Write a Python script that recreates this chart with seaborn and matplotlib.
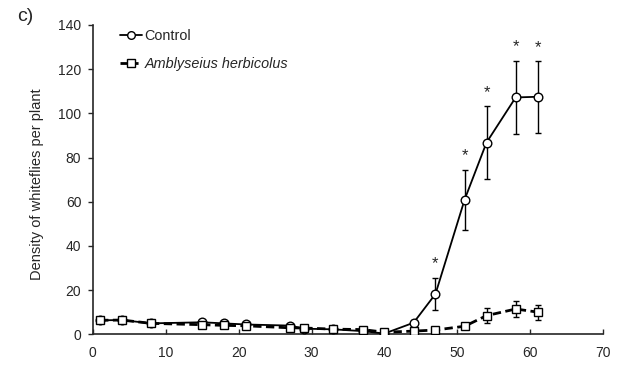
import matplotlib
matplotlib.use("Agg")
import matplotlib.pyplot as plt
import seaborn as sns
import pandas as pd
from matplotlib.lines import Line2D

days = [1, 4, 8, 15, 18, 21, 27, 29, 33, 37, 40, 44, 47, 51, 54, 58, 61]

control_mean = [6.4, 6.5, 5.0, 5.5, 5.0, 4.5, 4.0, 2.6, 2.3, 1.5, 0.4, 5.3, 18.3, 61.0, 86.8, 107.2, 107.5]
control_se = [0.9, 0.9, 0.7, 0.8, 0.7, 0.7, 0.6, 0.5, 0.5, 0.4, 0.2, 1.2, 7.4, 13.6, 16.5, 16.6, 16.2]

amb_mean = [6.4, 6.5, 5.0, 4.4, 4.1, 3.9, 3.0, 2.9, 2.4, 2.2, 1.0, 1.5, 2.0, 3.7, 8.5, 11.5, 10.1]
amb_se = [0.8, 0.8, 0.6, 0.6, 0.6, 0.5, 0.5, 0.5, 0.4, 0.4, 0.3, 0.4, 0.5, 0.8, 3.4, 3.4, 3.4]

signif_days = [47, 51, 54, 58, 61]

labels = ["Control", "Amblyseius herbicolus"]

df = pd.DataFrame({
    "day": days * 2,
    "density": control_mean + amb_mean,
    "se": control_se + amb_se,
    "treatment": [labels[0]] * len(days) + [labels[1]] * len(days),
})

sns.set_style("ticks")
plt.rcParams["font.family"] = ["Liberation Sans", "DejaVu Sans"]

fig = plt.figure(figsize=(6.27, 3.72), dpi=100)
ax = fig.add_axes([0.148, 0.101, 0.814, 0.832])

for lab in labels:
    sub = df[df["treatment"] == lab]
    ax.errorbar(sub["day"], sub["density"], yerr=sub["se"], fmt="none",
                ecolor="black", elinewidth=1.0, capsize=2, capthick=1.0, zorder=2)

sns.lineplot(data=df, x="day", y="density", style="treatment",
             markers={labels[0]: "o", labels[1]: "s"},
             dashes={labels[0]: "", labels[1]: (3.0, 1.6)},
             color="black", markerfacecolor="white", markeredgecolor="black",
             markeredgewidth=1.0, markersize=6.2, legend=False, ax=ax, zorder=3)

for ln in ax.get_lines():
    if ln.get_marker() == "s":
        ln.set_linewidth(2.0)
    elif ln.get_marker() == "o":
        ln.set_linewidth(1.3)

# significance markers above the upper error bar
for d in signif_days:
    i = days.index(d)
    top = control_mean[i] + control_se[i]
    ax.text(d, top + 2.8, "*", ha="center", va="bottom", fontsize=12)

ax.set_xlim(0, 70)
ax.set_ylim(0, 140)
ax.set_xticks(range(0, 71, 10))
ax.set_yticks(range(0, 141, 20))
ax.tick_params(axis="x", direction="in", length=3.5, width=1, labelsize=10, pad=8)
ax.tick_params(axis="y", direction="out", length=3.8, width=1, labelsize=10, pad=4.5)
ax.set_xlabel("")
ax.set_ylabel("Density of whiteflies per plant", fontsize=10.5)
ax.yaxis.set_label_coords(-0.096, 0.484)
for sp in ["left", "bottom"]:
    ax.spines[sp].set_linewidth(1.2)
sns.despine(ax=ax)

handles = [
    Line2D([], [], color="black", lw=1.3, marker="o", markersize=5.5,
           markerfacecolor="white", markeredgecolor="black"),
    Line2D([], [], color="black", lw=2.0, ls=(0, (2.5, 1.5)), marker="s", markersize=5.5,
           markerfacecolor="white", markeredgecolor="black"),
]
leg = ax.legend(handles, labels, loc="upper left", bbox_to_anchor=(0.028, 1.03),
                frameon=False, handlelength=1.5, handletextpad=0.2,
                labelspacing=1.0, fontsize=10.4)
leg.get_texts()[1].set_style("italic")

fig.text(0.027, 0.978, "c)", fontsize=14, va="top", ha="left")

fig.savefig("out.png", dpi=100)
